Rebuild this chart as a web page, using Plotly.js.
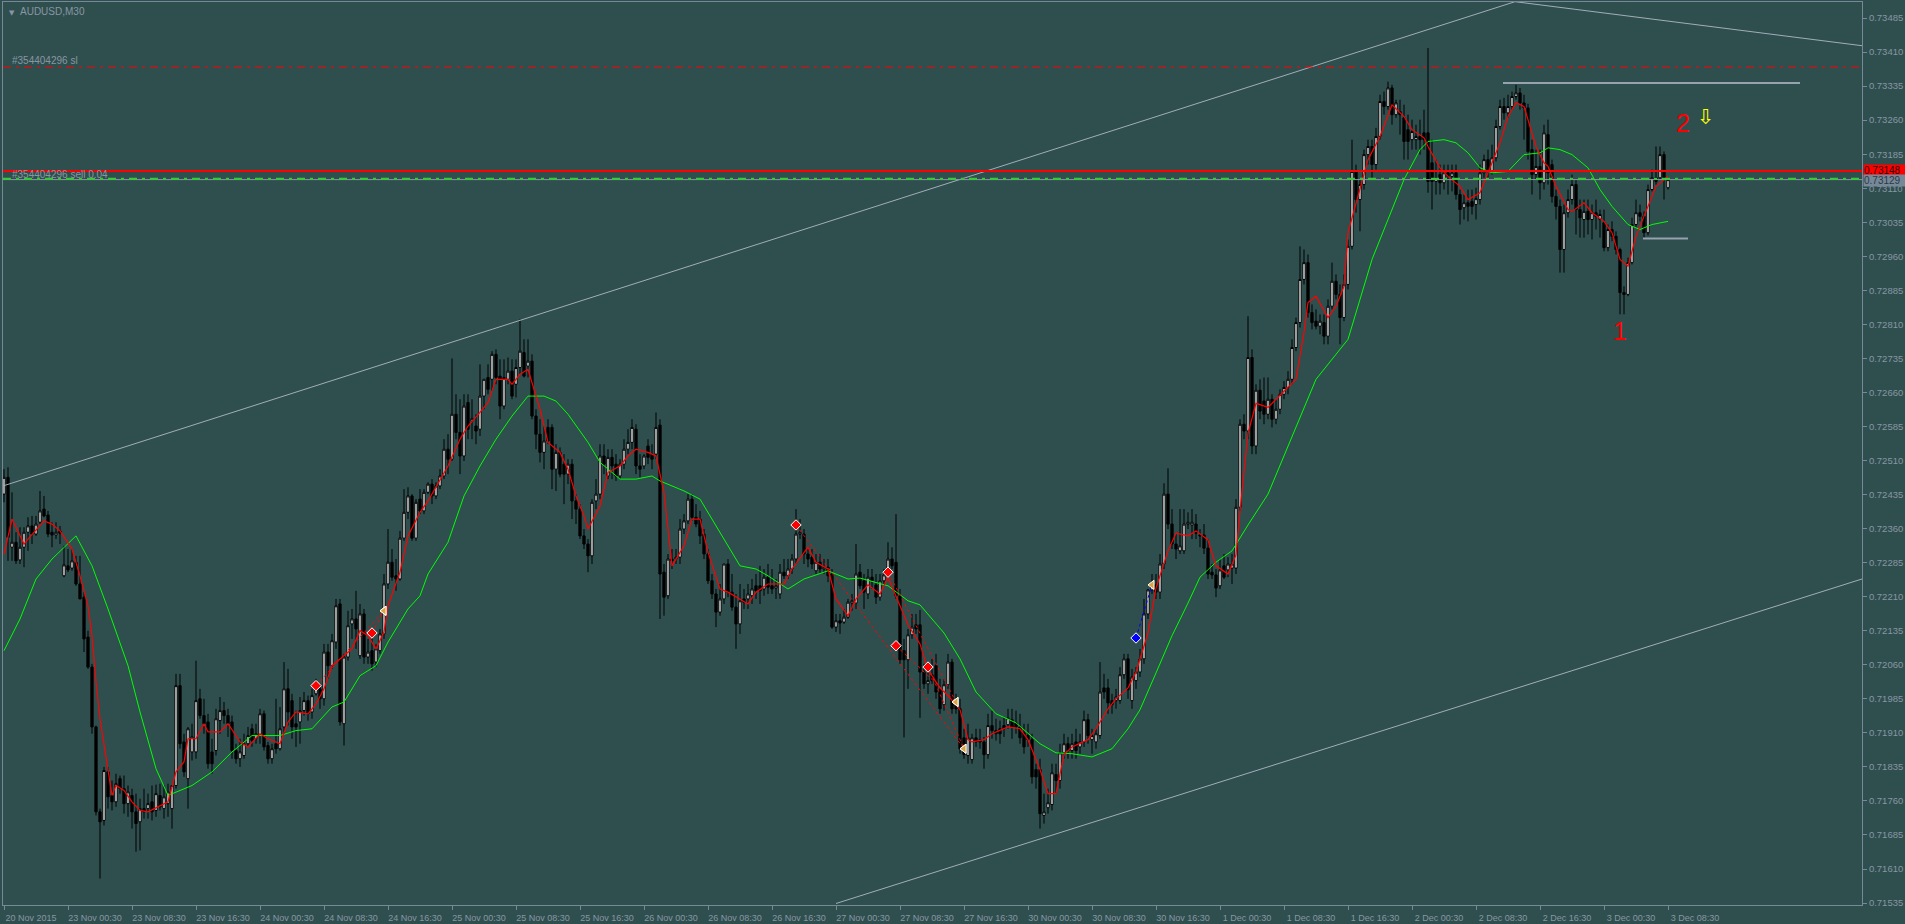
<!DOCTYPE html>
<html><head><meta charset="utf-8">
<script src="https://cdn.plot.ly/plotly-3.0.1.min.js"></script>
<style>html,body{margin:0;padding:0;background:#2f4f4f;overflow:hidden}#chart{width:1905px;height:924px}</style>
</head><body><div id="chart"></div>
<script>
// AUDUSD M30 bars (index 0 = 20 Nov 2015 afternoon ... 416 = 3 Dec 08:30)
const opens = [
0.72436,0.72473,0.72319,0.72330,0.72291,0.72319,0.72352,0.72366,0.72348,0.72374,
0.72403,0.72390,0.72352,0.72346,0.72355,0.72256,0.72278,0.72273,0.72286,0.72238,
0.72209,0.72121,0.72055,0.71923,0.71736,0.71717,0.71824,0.71772,0.71758,0.71809,
0.71787,0.71754,0.71772,0.71736,0.71714,0.71743,0.71743,0.71758,0.71739,0.71772,
0.71743,0.71754,0.71743,0.71794,0.72014,0.71890,0.71809,0.71868,0.71868,0.71985,
0.71948,0.71934,0.71868,0.71871,0.71937,0.71959,0.71948,0.71934,0.71871,0.71853,
0.71860,0.71886,0.71919,0.71897,0.71904,0.71952,0.71882,0.71853,0.71886,0.71875,
0.71923,0.72007,0.71981,0.71930,0.71934,0.71959,0.71981,0.71956,0.71996,0.72007,
0.71985,0.72088,0.72058,0.72110,0.72194,0.71930,0.72077,0.72150,0.72161,0.72080,
0.72172,0.72077,0.72091,0.72066,0.72091,0.72128,0.72238,0.72286,0.72256,0.72249,
0.72339,0.72396,0.72432,0.72339,0.72425,0.72399,0.72440,0.72458,0.72432,0.72454,
0.72476,0.72535,0.72513,0.72612,0.72572,0.72520,0.72638,0.72597,0.72586,0.72579,
0.72652,0.72693,0.72689,0.72744,0.72696,0.72630,0.72689,0.72707,0.72678,0.72715,
0.72748,0.72718,0.72729,0.72608,0.72568,0.72528,0.72583,0.72583,0.72491,0.72528,
0.72502,0.72480,0.72502,0.72421,0.72403,0.72344,0.72326,0.72300,0.72421,0.72436,
0.72520,0.72476,0.72517,0.72502,0.72476,0.72502,0.72535,0.72550,0.72579,0.72498,
0.72498,0.72542,0.72524,0.72524,0.72588,0.72264,0.72212,0.72293,0.72293,0.72297,
0.72359,0.72377,0.72425,0.72385,0.72381,0.72348,0.72304,0.72245,0.72216,0.72176,
0.72205,0.72282,0.72220,0.72187,0.72150,0.72205,0.72205,0.72212,0.72234,0.72234,
0.72227,0.72253,0.72234,0.72229,0.72216,0.72264,0.72256,0.72271,0.72293,0.72348,
0.72348,0.72304,0.72297,0.72267,0.72286,0.72271,0.72275,0.72260,0.72143,0.72157,
0.72154,0.72165,0.72196,0.72196,0.72264,0.72245,0.72216,0.72253,0.72236,0.72209,
0.72245,0.72262,0.72293,0.72286,0.72212,0.72091,0.72071,0.72126,0.72148,0.72148,
0.72044,0.72018,0.72038,0.72058,0.72005,0.71972,0.72016,0.72066,0.71981,0.71963,
0.71899,0.71860,0.71851,0.71899,0.71895,0.71890,0.71862,0.71926,0.71915,0.71919,
0.71926,0.71928,0.71939,0.71932,0.71923,0.71910,0.71904,0.71895,0.71829,0.71829,
0.71728,0.71745,0.71752,0.71818,0.71805,0.71866,0.71886,0.71871,0.71890,0.71879,
0.71890,0.71939,0.71895,0.71890,0.71904,0.72009,0.72009,0.71981,0.71981,0.71981,
0.72038,0.72073,0.71981,0.72025,0.72044,0.72073,0.72172,0.72225,0.72236,0.72220,
0.72282,0.72436,0.72370,0.72326,0.72311,0.72311,0.72370,0.72368,0.72370,0.72346,
0.72346,0.72317,0.72264,0.72258,0.72234,0.72278,0.72269,0.72273,0.72273,0.72407,
0.72590,0.72575,0.72737,0.72542,0.72665,0.72641,0.72612,0.72645,0.72601,0.72623,
0.72656,0.72671,0.72689,0.72759,0.72814,0.72909,0.72946,0.72836,0.72817,0.72806,
0.72814,0.72784,0.72850,0.72905,0.72876,0.72825,0.72898,0.72982,0.73147,0.73085,
0.73118,0.73184,0.73202,0.73162,0.73224,0.73301,0.73290,0.73331,0.73272,0.73279,
0.73265,0.73239,0.73217,0.73217,0.73224,0.73232,0.73232,0.73166,0.73125,0.73140,
0.73122,0.73144,0.73136,0.73144,0.73096,0.73067,0.73078,0.73081,0.73074,0.73085,
0.73144,0.73173,0.73147,0.73177,0.73246,0.73290,0.73276,0.73290,0.73312,0.73320,
0.73298,0.73287,0.73195,0.73140,0.73158,0.73122,0.73228,0.73162,0.73092,0.73070,
0.72975,0.73056,0.73085,0.73118,0.73063,0.73041,0.73059,0.73041,0.73056,0.73041,
0.73034,0.72979,0.73019,0.73004,0.72975,0.72880,0.72876,0.72946,0.73030,0.73056,
0.73048,0.73012,0.73107,0.73133,0.73133,0.73184,0.73111];
const highs = [
0.72491,0.72495,0.72440,0.72352,0.72363,0.72363,0.72385,0.72388,0.72388,0.72443,
0.72432,0.72399,0.72374,0.72374,0.72366,0.72322,0.72315,0.72315,0.72300,0.72300,
0.72220,0.72135,0.72062,0.71926,0.71743,0.71835,0.71835,0.71805,0.71820,0.71816,
0.71816,0.71794,0.71787,0.71776,0.71765,0.71787,0.71776,0.71794,0.71796,0.71798,
0.71794,0.71798,0.71794,0.72040,0.72040,0.71908,0.71923,0.71930,0.72069,0.72007,
0.71985,0.71952,0.71897,0.71963,0.71989,0.71978,0.71963,0.71948,0.71886,0.71897,
0.71908,0.71923,0.71930,0.71930,0.71963,0.71959,0.71890,0.71886,0.71985,0.71967,
0.72066,0.72051,0.71996,0.71959,0.71989,0.72000,0.71992,0.72007,0.72029,0.72018,
0.72106,0.72106,0.72128,0.72205,0.72205,0.72084,0.72179,0.72183,0.72223,0.72194,
0.72183,0.72117,0.72117,0.72106,0.72139,0.72260,0.72359,0.72315,0.72293,0.72355,
0.72447,0.72451,0.72436,0.72425,0.72447,0.72447,0.72462,0.72469,0.72462,0.72491,
0.72557,0.72568,0.72735,0.72656,0.72645,0.72656,0.72656,0.72645,0.72612,0.72722,
0.72689,0.72722,0.72751,0.72755,0.72733,0.72733,0.72737,0.72733,0.72733,0.72821,
0.72777,0.72777,0.72744,0.72623,0.72601,0.72586,0.72601,0.72590,0.72546,0.72539,
0.72524,0.72513,0.72513,0.72436,0.72414,0.72359,0.72337,0.72425,0.72469,0.72546,
0.72546,0.72535,0.72535,0.72524,0.72513,0.72557,0.72579,0.72601,0.72590,0.72524,
0.72524,0.72557,0.72546,0.72616,0.72601,0.72282,0.72304,0.72315,0.72315,0.72381,
0.72392,0.72436,0.72436,0.72414,0.72399,0.72359,0.72315,0.72260,0.72227,0.72238,
0.72282,0.72293,0.72260,0.72216,0.72238,0.72227,0.72238,0.72249,0.72260,0.72278,
0.72271,0.72282,0.72271,0.72249,0.72282,0.72293,0.72293,0.72304,0.72403,0.72381,
0.72359,0.72319,0.72315,0.72304,0.72304,0.72293,0.72293,0.72271,0.72172,0.72172,
0.72183,0.72205,0.72216,0.72326,0.72282,0.72260,0.72271,0.72271,0.72260,0.72260,
0.72271,0.72330,0.72319,0.72392,0.72227,0.72117,0.72139,0.72172,0.72172,0.72181,
0.72062,0.72051,0.72073,0.72084,0.72029,0.72029,0.72084,0.72073,0.71996,0.71985,
0.71919,0.71930,0.71908,0.71919,0.71919,0.71901,0.71952,0.71959,0.71941,0.71937,
0.71945,0.71963,0.71963,0.71959,0.71952,0.71930,0.71930,0.71908,0.71842,0.71853,
0.71776,0.71787,0.71842,0.71842,0.71886,0.71908,0.71901,0.71908,0.71919,0.71908,
0.71959,0.71952,0.71919,0.71919,0.72066,0.72040,0.72029,0.71996,0.72007,0.72055,
0.72084,0.72084,0.72051,0.72055,0.72095,0.72205,0.72227,0.72260,0.72260,0.72304,
0.72460,0.72493,0.72403,0.72348,0.72403,0.72403,0.72396,0.72403,0.72392,0.72359,
0.72370,0.72337,0.72282,0.72271,0.72293,0.72304,0.72297,0.72304,0.72425,0.72601,
0.72612,0.72828,0.72755,0.72678,0.72689,0.72693,0.72693,0.72656,0.72645,0.72667,
0.72685,0.72707,0.72777,0.72825,0.72982,0.72975,0.72964,0.72854,0.72843,0.72832,
0.72832,0.72865,0.72946,0.72920,0.72898,0.72920,0.72997,0.73217,0.73162,0.73129,
0.73195,0.73217,0.73217,0.73243,0.73316,0.73323,0.73345,0.73338,0.73305,0.73305,
0.73294,0.73272,0.73261,0.73250,0.73261,0.73283,0.73419,0.73217,0.73173,0.73162,
0.73162,0.73162,0.73162,0.73162,0.73107,0.73096,0.73107,0.73107,0.73111,0.73162,
0.73184,0.73195,0.73206,0.73261,0.73305,0.73309,0.73316,0.73323,0.73338,0.73331,
0.73316,0.73296,0.73217,0.73195,0.73195,0.73250,0.73261,0.73173,0.73107,0.73085,
0.73074,0.73107,0.73140,0.73129,0.73085,0.73085,0.73085,0.73074,0.73085,0.73063,
0.73063,0.73030,0.73037,0.73015,0.72979,0.72894,0.72957,0.73045,0.73085,0.73074,
0.73059,0.73118,0.73151,0.73202,0.73202,0.73191,0.73133];
const lows = [
0.72418,0.72289,0.72289,0.72282,0.72282,0.72275,0.72311,0.72326,0.72344,0.72370,
0.72385,0.72341,0.72319,0.72337,0.72326,0.72253,0.72264,0.72267,0.72234,0.72205,
0.72088,0.72051,0.71908,0.71728,0.71589,0.71706,0.71743,0.71739,0.71747,0.71776,
0.71732,0.71725,0.71699,0.71648,0.71651,0.71721,0.71721,0.71717,0.71725,0.71739,
0.71721,0.71725,0.71699,0.71787,0.71875,0.71813,0.71743,0.71849,0.71853,0.71941,
0.71908,0.71831,0.71820,0.71860,0.71908,0.71930,0.71901,0.71853,0.71842,0.71835,
0.71853,0.71879,0.71879,0.71886,0.71886,0.71871,0.71842,0.71842,0.71864,0.71871,
0.71908,0.71926,0.71897,0.71879,0.71886,0.71948,0.71937,0.71941,0.71992,0.71963,
0.71970,0.72029,0.72051,0.72095,0.71926,0.71882,0.72069,0.72117,0.72095,0.72073,
0.72062,0.72062,0.72047,0.72055,0.72084,0.72117,0.72227,0.72245,0.72223,0.72245,
0.72333,0.72381,0.72333,0.72333,0.72392,0.72392,0.72436,0.72414,0.72425,0.72447,
0.72469,0.72480,0.72509,0.72557,0.72480,0.72509,0.72557,0.72557,0.72546,0.72564,
0.72623,0.72656,0.72663,0.72678,0.72601,0.72623,0.72678,0.72645,0.72649,0.72700,
0.72693,0.72693,0.72601,0.72535,0.72506,0.72491,0.72546,0.72447,0.72443,0.72473,
0.72414,0.72458,0.72381,0.72370,0.72337,0.72315,0.72264,0.72282,0.72403,0.72425,
0.72480,0.72469,0.72469,0.72465,0.72469,0.72491,0.72524,0.72535,0.72480,0.72473,
0.72491,0.72502,0.72491,0.72513,0.72161,0.72168,0.72205,0.72271,0.72282,0.72282,
0.72348,0.72370,0.72377,0.72363,0.72326,0.72293,0.72238,0.72205,0.72143,0.72168,
0.72194,0.72209,0.72179,0.72095,0.72128,0.72183,0.72183,0.72194,0.72205,0.72194,
0.72212,0.72216,0.72216,0.72205,0.72205,0.72249,0.72249,0.72260,0.72282,0.72337,
0.72282,0.72275,0.72271,0.72260,0.72260,0.72260,0.72242,0.72139,0.72132,0.72128,
0.72150,0.72161,0.72179,0.72183,0.72227,0.72183,0.72205,0.72227,0.72194,0.72201,
0.72238,0.72253,0.72271,0.72205,0.72062,0.71900,0.72007,0.72117,0.72128,0.71943,
0.72007,0.71996,0.72018,0.71985,0.71952,0.71959,0.72007,0.71952,0.71952,0.71864,
0.71853,0.71842,0.71842,0.71879,0.71875,0.71831,0.71853,0.71897,0.71893,0.71886,
0.71901,0.71919,0.71897,0.71908,0.71886,0.71864,0.71879,0.71798,0.71787,0.71699,
0.71710,0.71732,0.71739,0.71776,0.71787,0.71853,0.71853,0.71853,0.71853,0.71864,
0.71879,0.71886,0.71864,0.71875,0.71897,0.71985,0.71952,0.71952,0.71963,0.71974,
0.72029,0.71985,0.71963,0.72007,0.72033,0.72062,0.72161,0.72216,0.72205,0.72205,
0.72271,0.72359,0.72315,0.72293,0.72304,0.72304,0.72359,0.72337,0.72337,0.72319,
0.72304,0.72249,0.72249,0.72209,0.72227,0.72249,0.72253,0.72238,0.72260,0.72399,
0.72557,0.72557,0.72524,0.72524,0.72601,0.72590,0.72601,0.72583,0.72590,0.72612,
0.72645,0.72656,0.72678,0.72751,0.72803,0.72898,0.72825,0.72799,0.72799,0.72788,
0.72766,0.72766,0.72843,0.72865,0.72766,0.72817,0.72887,0.72975,0.73056,0.73015,
0.73107,0.73162,0.73129,0.73151,0.73217,0.73272,0.73283,0.73250,0.73265,0.73228,
0.73173,0.73173,0.73195,0.73195,0.73184,0.73195,0.73100,0.73063,0.73096,0.73096,
0.73107,0.73096,0.73103,0.73085,0.73030,0.73041,0.73037,0.73052,0.73041,0.73074,
0.73133,0.73129,0.73140,0.73169,0.73239,0.73261,0.73265,0.73283,0.73305,0.73283,
0.73217,0.73173,0.73096,0.73129,0.73085,0.73107,0.73118,0.73078,0.73041,0.72924,
0.72924,0.73045,0.73074,0.73008,0.73001,0.73001,0.73008,0.72997,0.73019,0.73001,
0.72971,0.72971,0.72993,0.72964,0.72832,0.72832,0.72872,0.72942,0.73023,0.73037,
0.73001,0.73006,0.73103,0.73118,0.73129,0.73085,0.73107];
const closes = [
0.72473,0.72341,0.72330,0.72289,0.72319,0.72352,0.72366,0.72348,0.72370,0.72399,
0.72388,0.72348,0.72346,0.72352,0.72350,0.72280,0.72269,0.72289,0.72238,0.72205,
0.72117,0.72055,0.71923,0.71736,0.71714,0.71827,0.71769,0.71758,0.71798,0.71787,
0.71754,0.71780,0.71736,0.71710,0.71743,0.71736,0.71754,0.71736,0.71776,0.71747,
0.71769,0.71780,0.71794,0.72014,0.71886,0.71824,0.71919,0.71901,0.71981,0.71948,
0.71930,0.71842,0.71842,0.71941,0.71959,0.71948,0.71930,0.71871,0.71853,0.71868,
0.71886,0.71904,0.71893,0.71908,0.71952,0.71879,0.71853,0.71875,0.71875,0.71919,
0.72007,0.71956,0.71923,0.71923,0.71959,0.71981,0.71952,0.71992,0.72007,0.71985,
0.72088,0.72058,0.72113,0.72190,0.71934,0.72077,0.72146,0.72161,0.72139,0.72172,
0.72077,0.72088,0.72062,0.72095,0.72128,0.72238,0.72286,0.72253,0.72249,0.72339,
0.72396,0.72432,0.72339,0.72418,0.72399,0.72440,0.72458,0.72432,0.72454,0.72476,
0.72535,0.72513,0.72612,0.72572,0.72520,0.72630,0.72579,0.72603,0.72575,0.72652,
0.72689,0.72667,0.72744,0.72693,0.72630,0.72693,0.72707,0.72652,0.72715,0.72751,
0.72696,0.72729,0.72608,0.72568,0.72528,0.72553,0.72553,0.72491,0.72528,0.72480,
0.72480,0.72502,0.72421,0.72403,0.72344,0.72326,0.72300,0.72418,0.72436,0.72520,
0.72502,0.72517,0.72498,0.72476,0.72502,0.72535,0.72550,0.72583,0.72498,0.72491,
0.72520,0.72517,0.72513,0.72583,0.72260,0.72209,0.72293,0.72289,0.72297,0.72359,
0.72377,0.72425,0.72385,0.72370,0.72344,0.72304,0.72245,0.72216,0.72176,0.72205,
0.72282,0.72220,0.72187,0.72150,0.72201,0.72198,0.72216,0.72227,0.72223,0.72223,
0.72253,0.72231,0.72227,0.72234,0.72264,0.72256,0.72271,0.72293,0.72348,0.72352,
0.72304,0.72293,0.72282,0.72286,0.72271,0.72275,0.72256,0.72143,0.72157,0.72152,
0.72165,0.72198,0.72201,0.72260,0.72234,0.72220,0.72253,0.72245,0.72209,0.72245,
0.72258,0.72293,0.72278,0.72212,0.72071,0.72071,0.72126,0.72143,0.72139,0.72044,
0.72018,0.72025,0.72025,0.72000,0.71963,0.72016,0.72066,0.71963,0.71963,0.71875,
0.71862,0.71899,0.71899,0.71890,0.71890,0.71862,0.71926,0.71915,0.71908,0.71908,
0.71919,0.71943,0.71923,0.71923,0.71899,0.71879,0.71895,0.71813,0.71813,0.71732,
0.71736,0.71756,0.71822,0.71805,0.71866,0.71886,0.71871,0.71886,0.71871,0.71890,
0.71939,0.71904,0.71904,0.71908,0.72000,0.72000,0.71976,0.71972,0.71989,0.72038,
0.72073,0.72005,0.72033,0.72044,0.72073,0.72172,0.72225,0.72236,0.72220,0.72282,
0.72436,0.72370,0.72326,0.72315,0.72322,0.72370,0.72374,0.72374,0.72350,0.72344,
0.72317,0.72260,0.72258,0.72229,0.72269,0.72253,0.72282,0.72282,0.72407,0.72590,
0.72575,0.72737,0.72542,0.72665,0.72619,0.72612,0.72645,0.72601,0.72623,0.72656,
0.72671,0.72689,0.72759,0.72814,0.72909,0.72946,0.72836,0.72814,0.72806,0.72817,
0.72784,0.72850,0.72905,0.72876,0.72825,0.72898,0.72982,0.73147,0.73085,0.73118,
0.73184,0.73202,0.73162,0.73224,0.73301,0.73290,0.73331,0.73272,0.73298,0.73272,
0.73213,0.73213,0.73235,0.73224,0.73217,0.73217,0.73125,0.73125,0.73133,0.73122,
0.73144,0.73136,0.73144,0.73096,0.73063,0.73078,0.73070,0.73070,0.73087,0.73144,
0.73173,0.73147,0.73177,0.73246,0.73290,0.73276,0.73290,0.73312,0.73320,0.73298,
0.73287,0.73191,0.73140,0.73158,0.73122,0.73232,0.73144,0.73092,0.73070,0.72975,
0.73056,0.73085,0.73118,0.73063,0.73045,0.73059,0.73041,0.73056,0.73048,0.73052,
0.72979,0.73019,0.73004,0.72975,0.72880,0.72876,0.72946,0.73030,0.73056,0.73048,
0.73012,0.73107,0.73133,0.73125,0.73184,0.73133,0.73129];

// slow moving average (green) read at sample bars
const slowMaIdx = [0,4,8,12,18,22,26,31,34,38,41,47,52,57,62,69,73,77,82,85,89,93,96,101,104,106,111,115,119,123,127,131,135,138,141,146,149,154,158,162,164,170,174,179,184,188,191,196,200,206,211,214,221,226,229,235,239,243,248,253,259,263,267,272,277,281,284,288,292,296,299,303,307,311,316,328,332,336,339,342,346,350,354,356,360,363,366,369,372,376,380,384,386,389,392,396,399,402,406,409,412,416];
const slowMa = [0.72091,0.72161,0.72249,0.72293,0.72344,0.72278,0.72183,0.72058,0.71956,0.71831,0.71772,0.71794,0.71824,0.71868,0.71904,0.71904,0.71915,0.71919,0.71967,0.71978,0.72036,0.72058,0.72110,0.72183,0.72212,0.72260,0.72330,0.72432,0.72498,0.72557,0.72608,0.72652,0.72652,0.72641,0.72612,0.72550,0.72506,0.72469,0.72469,0.72476,0.72465,0.72443,0.72425,0.72352,0.72278,0.72271,0.72256,0.72227,0.72249,0.72267,0.72249,0.72251,0.72234,0.72201,0.72192,0.72130,0.72073,0.72000,0.71952,0.71932,0.71886,0.71866,0.71864,0.71857,0.71875,0.71919,0.71961,0.72042,0.72124,0.72196,0.72253,0.72286,0.72311,0.72368,0.72436,0.72689,0.72733,0.72777,0.72865,0.72953,0.73041,0.73129,0.73195,0.73213,0.73217,0.73210,0.73188,0.73155,0.73144,0.73147,0.73184,0.73188,0.73199,0.73195,0.73184,0.73155,0.73107,0.73070,0.73030,0.73019,0.73030,0.73037];

// fast moving average (red) read at sample bars
const fastMaIdx = [0,2,5,6,10,12,14,17,19,21,22,23,24,26,27,28,30,32,34,36,39,41,43,45,46,48,50,51,54,56,59,61,64,66,69,71,73,76,78,80,82,85,87,89,91,93,95,96,99,101,104,106,111,114,116,119,121,123,126,127,129,131,132,134,136,139,141,143,145,146,149,151,154,156,158,161,163,165,167,170,172,174,176,179,181,184,186,188,191,195,197,201,203,206,208,211,213,216,219,221,223,226,229,231,234,236,239,241,242,245,247,251,254,256,259,261,263,265,267,271,273,276,278,281,283,286,288,291,293,296,298,301,303,306,308,309,311,313,316,323,325,326,328,331,333,335,336,339,341,344,347,350,352,355,356,359,361,364,366,369,371,374,376,378,380,381,383,385,386,388,391,392,395,397,400,402,404,406,408,411,413,416];
const fastMa = [0.72304,0.72381,0.72326,0.72337,0.72377,0.72370,0.72355,0.72315,0.72256,0.72190,0.72124,0.72022,0.71941,0.71831,0.71772,0.71794,0.71783,0.71758,0.71739,0.71736,0.71750,0.71758,0.71824,0.71846,0.71897,0.71897,0.71930,0.71912,0.71912,0.71930,0.71890,0.71879,0.71908,0.71897,0.71886,0.71934,0.71956,0.71952,0.71974,0.72007,0.72058,0.72080,0.72095,0.72135,0.72124,0.72095,0.72132,0.72190,0.72264,0.72344,0.72396,0.72421,0.72498,0.72557,0.72586,0.72616,0.72638,0.72689,0.72689,0.72678,0.72700,0.72711,0.72682,0.72623,0.72550,0.72528,0.72491,0.72432,0.72388,0.72359,0.72410,0.72484,0.72498,0.72520,0.72535,0.72528,0.72520,0.72440,0.72278,0.72322,0.72381,0.72381,0.72308,0.72227,0.72220,0.72205,0.72194,0.72220,0.72238,0.72238,0.72271,0.72319,0.72286,0.72271,0.72205,0.72168,0.72205,0.72236,0.72216,0.72253,0.72212,0.72148,0.72106,0.72049,0.72009,0.71992,0.71961,0.71895,0.71890,0.71895,0.71908,0.71923,0.71919,0.71895,0.71829,0.71776,0.71776,0.71862,0.71879,0.71895,0.71919,0.71963,0.71985,0.72009,0.72044,0.72130,0.72229,0.72311,0.72350,0.72344,0.72355,0.72335,0.72278,0.72260,0.72302,0.72399,0.72570,0.72636,0.72627,0.72689,0.72792,0.72858,0.72872,0.72825,0.72850,0.72894,0.73012,0.73107,0.73173,0.73224,0.73294,0.73268,0.73239,0.73221,0.73202,0.73155,0.73136,0.73114,0.73085,0.73100,0.73144,0.73210,0.73268,0.73298,0.73290,0.73261,0.73202,0.73166,0.73158,0.73114,0.73063,0.73059,0.73078,0.73056,0.73037,0.73012,0.72953,0.72938,0.73004,0.73070,0.73114,0.73136];

// trade history: entries and exits (bar index, price)
const entryIdx = [78, 92, 198, 221, 223, 231, 283];
const entryPx  = [0.72014, 0.72130, 0.72368, 0.72264, 0.72102, 0.72055, 0.72119];
const entrySide = ['sell','sell','sell','sell','sell','sell','buy'];
const exitIdx  = [95, 95, 240, 238, 238, 240, 287];
const exitPx   = [0.72179, 0.72179, 0.71875, 0.71978, 0.71978, 0.71875, 0.72236];

// price levels
const slLevel = 0.73377;
const sellLevel = 0.73148;
const tpLevel = 0.73131;
const bidLevel = 0.73129;

// drawn objects (bar index, price)
const upperTrendIdx = [-0.25, 377.75, 464.5];
const upperTrendPx  = [0.72454, 0.73521, 0.73424];
const lowerTrendIdx = [208, 464.5];
const lowerTrendPx  = [0.71534, 0.72249];
const resistIdx = [374.75, 449];
const resistPx  = [0.73342, 0.73342];
const supportIdx = [409.75, 421];
const supportPx  = [0.72999, 0.72999];

// marks "1", "2" and arrow
const markText = ['1', '2'];
const markIdx = [404, 419.75];
const markPx = [0.72795, 0.73254];
const arrowIdx = 425.5, arrowPx = 0.73268;

const xTickIdx = [0,16,32,48,64,80,96,112,128,144,160,176,192,208,224,240,256,272,288,304,320,336,352,368,384,400,416];
const xTickText = ['20 Nov 2015','23 Nov 00:30','23 Nov 08:30','23 Nov 16:30','24 Nov 00:30','24 Nov 08:30','24 Nov 16:30','25 Nov 00:30','25 Nov 08:30','25 Nov 16:30','26 Nov 00:30','26 Nov 08:30','26 Nov 16:30','27 Nov 00:30','27 Nov 08:30','27 Nov 16:30','30 Nov 00:30','30 Nov 08:30','30 Nov 16:30','1 Dec 00:30','1 Dec 08:30','1 Dec 16:30','2 Dec 00:30','2 Dec 08:30','2 Dec 16:30','3 Dec 00:30','3 Dec 08:30'];

const X0 = -0.25, X1 = 464.5;
const BG = '#2f4f4f', AX = '#778899', TXT = '#8896a3';
const barX = closes.map((_, i) => i);

const traces = [];
// channel lines
traces.push({type:'scatter', mode:'lines', x:upperTrendIdx, y:upperTrendPx, line:{color:'#a3adb7', width:1}, hoverinfo:'skip'});
traces.push({type:'scatter', mode:'lines', x:lowerTrendIdx, y:lowerTrendPx, line:{color:'#a3adb7', width:1}, hoverinfo:'skip'});
// candles
traces.push({
  type:'candlestick', x:barX, open:opens, high:highs, low:lows, close:closes,
  increasing:{line:{color:'#000000', width:1}, fillcolor:'#ffffff'},
  decreasing:{line:{color:'#000000', width:1}, fillcolor:'#000000'},
  whiskerwidth:0, hoverinfo:'skip'
});
// moving averages
traces.push({type:'scatter', mode:'lines', x:slowMaIdx, y:slowMa, line:{color:'#00ff00', width:1}, hoverinfo:'skip'});
traces.push({type:'scatter', mode:'lines', x:fastMaIdx, y:fastMa, line:{color:'#ff0000', width:1.2}, hoverinfo:'skip'});
// horizontal segments
traces.push({type:'scatter', mode:'lines', x:resistIdx, y:resistPx, line:{color:'#96a2ad', width:2}, hoverinfo:'skip'});
traces.push({type:'scatter', mode:'lines', x:supportIdx, y:supportPx, line:{color:'#96a2ad', width:2}, hoverinfo:'skip'});
// levels
traces.push({type:'scatter', mode:'lines', x:[X0, X1], y:[slLevel, slLevel], line:{color:'#ff0000', width:1, dash:'8px,5px,3px,5px'}, hoverinfo:'skip'});
traces.push({type:'scatter', mode:'lines', x:[X0, X1], y:[bidLevel, bidLevel], line:{color:'#8a98a5', width:1}, hoverinfo:'skip'});
traces.push({type:'scatter', mode:'lines', x:[X0, X1], y:[tpLevel, tpLevel], line:{color:'#32cd32', width:2, dash:'8px,5px,3px,5px'}, hoverinfo:'skip'});
traces.push({type:'scatter', mode:'lines', x:[X0, X1], y:[sellLevel, sellLevel], line:{color:'#ff0000', width:2}, hoverinfo:'skip'});
// trade lines
entryIdx.forEach((ix, k) => {
  traces.push({type:'scatter', mode:'lines', x:[ix, exitIdx[k]], y:[entryPx[k], exitPx[k]],
    line:{color: entrySide[k] === 'buy' ? '#0000ff' : '#ff0000', width:1, dash:'dot'}, hoverinfo:'skip'});
});
traces.push({type:'scatter', mode:'markers', x:entryIdx, y:entryPx,
  marker:{symbol:'diamond', size:8, color: entrySide.map(s => s === 'buy' ? '#0000ff' : '#ff0000'), line:{color:'#ffffff', width:1}}, hoverinfo:'skip'});
traces.push({type:'scatter', mode:'markers', x:exitIdx, y:exitPx,
  marker:{symbol:'triangle-left', size:8, color:'#d9a441', line:{color:'#ffffff', width:1}}, hoverinfo:'skip'});

const annotations = [
  {xref:'paper', yref:'paper', x:0, y:1, xanchor:'left', yanchor:'top', xshift:4, yshift:-5, text:'▼', showarrow:false, font:{family:'DejaVu Sans', size:7, color:TXT}},
  {xref:'paper', yref:'paper', x:0, y:1, xanchor:'left', yanchor:'top', xshift:15, yshift:-2, text:'AUDUSD,M30', showarrow:false, font:{family:'Liberation Sans', size:10, color:TXT}},
  {x:1.5, y:0.73391, xanchor:'left', yanchor:'middle', text:'#354404296 sl', showarrow:false, font:{family:'Liberation Sans', size:10, color:TXT}},
  {x:1.5, y:0.73140, xanchor:'left', yanchor:'middle', text:'#354404296 sell 0.04', showarrow:false, font:{family:'Liberation Sans', size:10, color:TXT}},
  {x:markIdx[0], y:markPx[0], text:markText[0], showarrow:false, font:{family:'Liberation Sans', size:25, color:'#ff0000'}},
  {x:markIdx[1], y:markPx[1], text:markText[1], showarrow:false, font:{family:'Liberation Sans', size:25, color:'#ff0000'}},
  {x:arrowIdx, y:arrowPx, text:'⇩', showarrow:false, font:{family:'DejaVu Sans', size:21, color:'#ffff00'}},
  {xref:'paper', x:1, y:sellLevel, xanchor:'left', yanchor:'middle', xshift:1, text:sellLevel.toFixed(5), showarrow:false, bgcolor:'#ff0000', borderpad:0, width:41, align:'left', font:{family:'Liberation Sans', size:10, color:'#300000'}},
  {xref:'paper', x:1, y:bidLevel, xanchor:'left', yanchor:'middle', xshift:1, yshift:-1, text:bidLevel.toFixed(5), showarrow:false, bgcolor:'#778899', borderpad:0, width:41, align:'left', font:{family:'Liberation Sans', size:10, color:'#2a3a44'}}
];

const layout = {
  width:1905, height:924,
  margin:{l:3, r:43, t:2, b:19, pad:0},
  paper_bgcolor:BG, plot_bgcolor:BG,
  showlegend:false, hovermode:false,
  xaxis:{range:[X0, X1], type:'linear', showgrid:false, zeroline:false, showline:true, linecolor:AX, linewidth:1, mirror:true,
    ticks:'outside', ticklen:4, tickcolor:AX, tickvals:xTickIdx, ticktext:xTickText, ticklabelshift:27, ticklabelstandoff:0,
    tickfont:{family:'Liberation Sans', size:9, color:TXT}, rangeslider:{visible:false}, fixedrange:true},
  yaxis:{range:[0.715307, 0.735203], side:'right', showgrid:false, zeroline:false, showline:true, linecolor:AX, linewidth:1, mirror:true,
    ticks:'outside', ticklen:4, tickcolor:AX, tick0:0.71535, dtick:0.00075, tickformat:'.5f',
    tickfont:{family:'Liberation Sans', size:9.5, color:TXT}, fixedrange:true},
  boxgap:0.2,
  annotations:annotations
};

Plotly.newPlot('chart', traces, layout, {staticPlot:true, displayModeBar:false});
</script>
</body></html>
